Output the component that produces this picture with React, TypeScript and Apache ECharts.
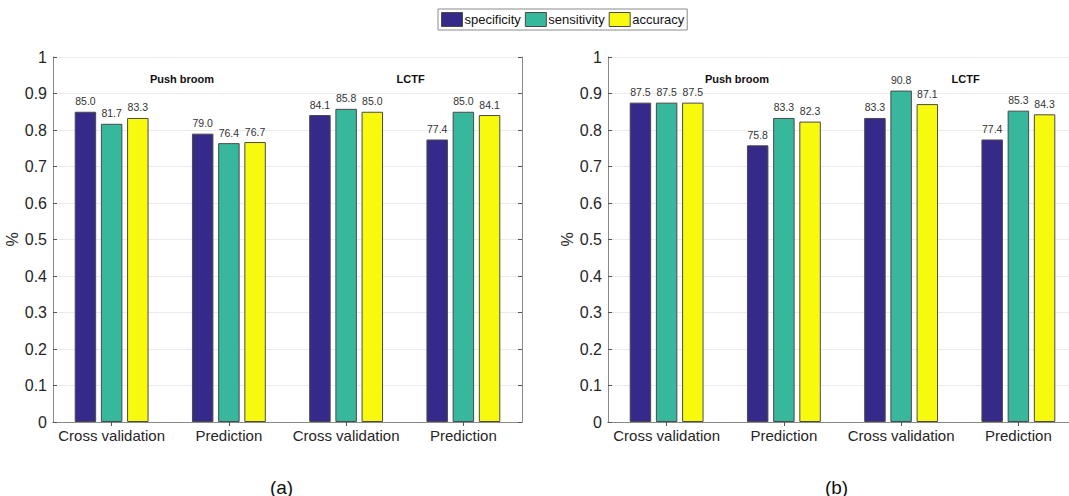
import React, { useEffect, useRef } from "react";
import * as echarts from "echarts";

const categories = ["Cross validation", "Prediction", "Cross validation", "Prediction"];
const seriesNames = ["specificity", "sensitivity", "accuracy"];
const colors = ["#35298a", "#37b89d", "#f8fa0d"];

const aSpecificity = [85.0, 79.0, 84.1, 77.4];
const aSensitivity = [81.7, 76.4, 85.8, 85.0];
const aAccuracy = [83.3, 76.7, 85.0, 84.1];

const bSpecificity = [87.5, 75.8, 83.3, 77.4];
const bSensitivity = [87.5, 83.3, 90.8, 85.3];
const bAccuracy = [87.5, 82.3, 87.1, 84.3];

const groupLabels = ["Push broom", "LCTF"];
const groupLabelPos = [1.6, 3.55]; // in category units (1-based)
const panelLabels = ["(a)", "(b)"];

const FONT = "'Liberation Sans', Arial, Helvetica, sans-serif";

const GRID_W = 469;
const GRID_H = 365;
const GRID_TOP = 57;
const GRID_LEFTS = [53, 608];

export default function App() {
  const ref = useRef<HTMLDivElement>(null);

  useEffect(() => {
    if (!ref.current) return;
    const chart = echarts.init(ref.current, undefined, { renderer: "svg" });

    const panels = [
      [aSpecificity, aSensitivity, aAccuracy],
      [bSpecificity, bSensitivity, bAccuracy],
    ];

    const grids = GRID_LEFTS.map((l) => ({
      left: l,
      top: GRID_TOP,
      width: GRID_W,
      height: GRID_H,
      containLabel: false,
    }));

    const axisLine = { show: true, lineStyle: { color: "#8a8a8a", width: 1 } };
    const catTick = { show: true, inside: true, alignWithLabel: true, interval: 0, length: 4, lineStyle: { color: "#555" } };

    const xAxes: any[] = [];
    const yAxes: any[] = [];
    GRID_LEFTS.forEach((_, g) => {
      xAxes.push({
        type: "category",
        gridIndex: g,
        data: categories,
        position: "bottom",
        axisLine,
        axisTick: catTick,
        axisLabel: { interval: 0, fontSize: 15, color: "#262626", fontFamily: FONT, margin: 6 },
        splitLine: { show: false },
      });
      xAxes.push({
        type: "category",
        gridIndex: g,
        data: categories,
        position: "top",
        axisLine,
        axisTick: catTick,
        axisLabel: { show: false },
        splitLine: { show: false },
      });
      yAxes.push({
        type: "value",
        gridIndex: g,
        min: 0,
        max: 1,
        interval: 0.1,
        position: "left",
        name: "%",
        nameLocation: "middle",
        nameGap: 29,
        nameTextStyle: { fontSize: 16, color: "#262626", fontFamily: FONT },
        axisLine,
        axisTick: { show: true, inside: true, length: 4, lineStyle: { color: "#555" } },
        axisLabel: {
          fontSize: 16,
          color: "#262626",
          fontFamily: FONT,
          margin: 6,
          formatter: (v: number) => (v === 0 ? "0" : v === 1 ? "1" : v.toFixed(1)),
        },
        splitLine: { show: true, lineStyle: { color: "#ebebeb", width: 1 } },
      });
      yAxes.push({
        type: "value",
        gridIndex: g,
        min: 0,
        max: 1,
        interval: 0.1,
        position: "right",
        axisLine,
        axisTick: { show: true, inside: true, length: 4, lineStyle: { color: "#555" } },
        axisLabel: { show: false },
        splitLine: { show: false },
      });
    });

    const series: any[] = [];
    panels.forEach((arrs, g) => {
      arrs.forEach((arr, i) => {
        series.push({
          type: "bar",
          name: seriesNames[i],
          xAxisIndex: g * 2,
          yAxisIndex: g * 2,
          data: arr.map((v) => v / 100),
          barGap: "22%",
          barCategoryGap: "37%",
          itemStyle: { color: colors[i], borderColor: "#4a4a4a", borderWidth: 1 },
          label: {
            show: true,
            position: "top",
            distance: 5,
            fontSize: 10.5,
            color: "#333",
            fontFamily: FONT,
            formatter: (p: any) => arr[p.dataIndex].toFixed(1),
          },
        });
      });
    });

    const graphics: any[] = [];
    GRID_LEFTS.forEach((l, g) => {
      groupLabels.forEach((t, k) => {
        graphics.push({
          type: "text",
          x: l + (groupLabelPos[k] - 0.5) * (GRID_W / categories.length),
          y: 79,
          style: {
            text: t,
            fontSize: 11,
            fontWeight: "bold",
            fontFamily: FONT,
            fill: "#111",
            align: "center",
            verticalAlign: "middle",
          },
        });
      });
      graphics.push({
        type: "text",
        x: l + GRID_W / 2 - 6,
        y: 487,
        style: {
          text: panelLabels[g],
          fontSize: 19,
          fontFamily: FONT,
          fill: "#111",
          align: "center",
          verticalAlign: "middle",
        },
      });
    });

    chart.setOption({
      animation: false,
      backgroundColor: "#ffffff",
      legend: {
        data: seriesNames,
        icon: "rect",
        top: 9,
        left: 438,
        itemWidth: 21,
        itemHeight: 14,
        itemGap: 4,
        padding: [3, 3, 3, 3],
        borderColor: "#8a8a8a",
        borderWidth: 1,
        itemStyle: { borderColor: "#4a4a4a", borderWidth: 1 },
        textStyle: { fontSize: 13, color: "#111", fontFamily: FONT, padding: [0, 0, 0, -3] },
      },
      grid: grids,
      xAxis: xAxes,
      yAxis: yAxes,
      series,
      graphic: graphics,
    });

    return () => chart.dispose();
  }, []);

  return (
    <div style={{ position: "absolute", left: 0, top: 0, width: 1069, height: 496, overflow: "hidden", background: "#fff" }}>
      <div ref={ref} style={{ width: 1090, height: 496 }} />
    </div>
  );
}
